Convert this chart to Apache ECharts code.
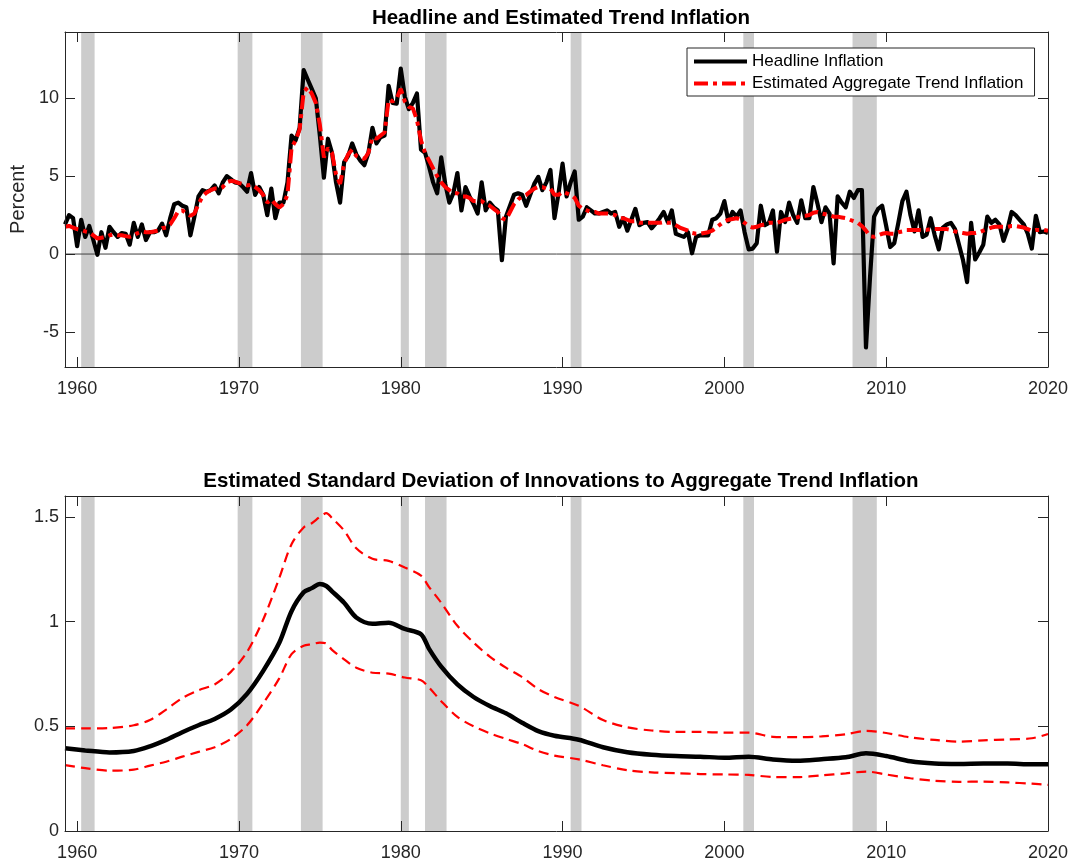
<!DOCTYPE html>
<html>
<head>
<meta charset="utf-8">
<title>Headline and Estimated Trend Inflation</title>
<script src="https://cdn.jsdelivr.net/npm/echarts@6/dist/echarts.min.js"></script>
<style>
  html, body { margin: 0; padding: 0; background: #fff; }
  #chart { width: 1075px; height: 865px; }
</style>
</head>
<body>
<div id="chart"></div>
<script>
// quarterly series, first observation 1959Q2
const firstQuarter = 1959.25;

const headline = [
  1.9, 2.5, 2.3,            // 1959
  0.5, 2.2, 1.1, 1.8,       // 1960
  0.9, -0.05, 1.4, 0.4,
  1.75, 1.4, 1.1, 1.35,
  1.3, 0.6, 2.0, 1.1,
  1.9, 0.9, 1.4, 1.4,
  1.5, 1.95, 1.2, 2.3,
  3.2, 3.3, 3.1, 3.0,
  1.2, 2.4, 3.7, 4.1,
  4.0, 4.1, 4.4, 3.9,
  4.6, 5.0, 4.8, 4.6,
  4.55, 4.3, 4.0, 5.2,      // 1970
  3.8, 4.3, 3.8, 2.5,
  4.2, 2.3, 3.3, 3.3,
  4.6, 7.6, 7.3, 8.1,
  11.8, 11.2, 10.6, 10.0,
  7.6, 4.9, 7.4, 6.5,
  4.6, 3.3, 5.9, 6.3,
  7.1, 6.4, 6.0, 5.7,
  6.5, 8.1, 7.1, 7.5,
  7.6, 10.8, 9.7, 9.65,
  11.9, 10.1, 9.3, 9.7,     // 1980
  10.3, 6.7, 6.5, 5.6,
  4.6, 3.9, 6.2, 4.5,
  3.3, 3.9, 5.2, 2.8,
  4.3, 3.7, 3.2, 2.6,
  4.6, 2.8, 3.3, 3.0,
  2.8, -0.4, 2.4, 3.1,
  3.8, 3.9, 3.8, 3.1,
  3.8, 4.5, 4.95, 4.1,
  4.6, 5.4, 2.3, 3.9,
  5.8, 3.7, 4.6, 5.3,       // 1990
  2.2, 2.4, 3.0, 2.8,
  2.6, 2.6, 2.7, 2.8,
  2.6, 2.7, 1.75, 2.3,
  1.5, 2.2, 2.9, 1.85,
  2.0, 2.05, 1.65, 1.95,
  2.3, 2.7, 2.05, 2.8,
  1.3, 1.2, 1.1, 1.4,
  0.05, 1.1, 1.2, 1.2,
  1.2, 2.2, 2.3, 2.6,
  3.4, 2.1, 2.7, 2.4,       // 2000
  2.8, 1.4, 0.3, 0.35,
  0.7, 3.1, 1.85, 2.0,
  2.8, 0.15, 2.7, 2.05,
  3.3, 2.5, 2.0, 3.45,
  2.3, 2.3, 4.3, 3.25,
  2.05, 3.0, 2.6, -0.6,
  3.7, 3.3, 3.0, 4.0,
  3.6, 4.1, 4.1, -6.0,
  -1.5, 2.4, 2.9, 3.1,
  1.8, 0.45, 0.7, 2.0,      // 2010
  3.4, 4.0, 2.5, 1.45,
  2.8, 1.1, 1.25, 2.3,
  1.2, 0.3, 1.7, 1.9,
  2.0, 1.6, 0.6, -0.4,
  -1.8, 2.0, -0.35, 0.1,
  0.6, 2.4, 2.0, 2.2,
  1.9, 0.85, 1.6, 2.7,
  2.5, 2.2, 1.9, 1.3,
  0.35, 2.45, 1.4, 1.45,
  1.35                      // 2020
];

const trend = [
  1.75, 1.8, 1.7,           // 1959
  1.6, 1.55, 1.45, 1.4,     // 1960
  1.2, 1.0, 1.05, 1.1,
  1.2, 1.25, 1.2, 1.2,
  1.15, 1.1, 1.2, 1.35,
  1.45, 1.4, 1.4, 1.45,
  1.5, 1.65, 1.7, 1.9,
  2.3, 2.75, 2.8, 2.6,
  2.45, 2.6, 3.2, 3.7,
  3.95, 4.1, 4.2, 4.2,
  4.3, 4.6, 4.7, 4.65,
  4.55, 4.5, 4.4, 4.45,     // 1970
  4.3, 4.1, 3.8, 3.3,
  3.5, 3.2, 3.0, 3.2,
  3.8, 6.8, 7.3, 8.0,
  10.4, 10.7, 10.3, 9.7,
  8.3, 6.2, 6.8, 6.5,
  5.1, 4.5, 5.8, 6.4,
  6.7, 6.3, 6.2, 6.1,
  6.5, 7.5, 7.4, 7.6,
  7.8, 9.9, 9.8, 10.0,
  10.6, 9.8, 9.45, 9.35,    // 1980
  8.6, 7.3, 6.5, 6.0,
  5.5, 5.0, 4.6, 4.3,
  4.1, 3.9, 3.9, 3.7,
  3.7, 3.6, 3.4, 3.4,
  3.4, 3.2, 3.1, 2.9,
  2.7, 2.3, 2.2, 2.7,
  3.2, 3.5, 3.7, 3.8,
  4.0, 4.2, 4.3, 4.3,
  4.2, 4.2, 3.8, 3.8,
  4.0, 3.9, 3.8, 3.6,       // 1990
  3.1, 2.9, 2.8, 2.7,
  2.7, 2.6, 2.6, 2.6,
  2.55, 2.5, 2.3, 2.3,
  2.2, 2.1, 2.1, 2.0,
  2.0, 2.0, 2.0, 2.0,
  2.0, 2.05, 2.0, 2.0,
  1.85, 1.7, 1.6, 1.5,
  1.35, 1.3, 1.3, 1.35,
  1.4, 1.5, 1.7, 1.9,
  2.1, 2.2, 2.25, 2.3,      // 2000
  2.2, 2.0, 1.8, 1.7,
  1.75, 1.85, 1.9, 2.0,
  2.0, 2.0, 2.1, 2.2,
  2.25, 2.3, 2.35, 2.45,
  2.45, 2.5, 2.65, 2.7,
  2.6, 2.55, 2.5, 2.4,
  2.4, 2.35, 2.3, 2.2,
  2.1, 2.0, 1.8, 1.5,
  1.15, 1.1, 1.2, 1.3,
  1.35, 1.3, 1.3, 1.4,      // 2010
  1.45, 1.55, 1.55, 1.55,
  1.55, 1.55, 1.55, 1.6,
  1.6, 1.6, 1.6, 1.6,
  1.55, 1.45, 1.4, 1.35,
  1.3, 1.35, 1.35, 1.4,
  1.5, 1.6, 1.7, 1.75,
  1.75, 1.75, 1.75, 1.8,
  1.8, 1.75, 1.7, 1.6,
  1.5, 1.55, 1.55, 1.55,
  1.5                       // 2020
];

// standard deviation of trend innovations (median and band)
const sdYears = [
  1959.25, 1960.5, 1962, 1963.5, 1964.5, 1965.5, 1966.5, 1967.5, 1968.5, 1969.5,
  1970.5, 1971.5, 1972.5, 1973.25, 1974, 1974.5, 1975, 1975.4, 1975.75, 1976.5, 1977.25,
  1978.25, 1979.25, 1980.25, 1981.25, 1981.75, 1982.5, 1983.5, 1984.5, 1985.5, 1986.5,
  1987.5, 1988.5, 1989.5, 1991, 1992.5, 1994, 1995.5, 1997, 1998.5, 2000,
  2001.5, 2003, 2004.5, 2006, 2007.5, 2008.75, 2010, 2011.5, 2013, 2014.5,
  2016, 2017.5, 2019, 2020
];
const sdMedian = [
  0.395, 0.385, 0.375, 0.382, 0.404, 0.435, 0.472, 0.505, 0.535, 0.58,
  0.655, 0.765, 0.90, 1.05, 1.14, 1.16, 1.18, 1.17, 1.145, 1.09, 1.02,
  0.99, 0.995, 0.965, 0.94, 0.87, 0.785, 0.70, 0.64, 0.597, 0.562,
  0.517, 0.477, 0.455, 0.436, 0.40, 0.376, 0.364, 0.358, 0.355, 0.35,
  0.355, 0.342, 0.336, 0.343, 0.352, 0.371, 0.358, 0.333, 0.322, 0.32,
  0.322, 0.322, 0.319, 0.319
];
const sdUpper = [
  0.49, 0.49, 0.492, 0.505, 0.53, 0.58, 0.635, 0.672, 0.70, 0.76,
  0.855, 1.01, 1.21, 1.37, 1.45, 1.47, 1.50, 1.518, 1.495, 1.435, 1.35,
  1.30, 1.29, 1.258, 1.22, 1.165, 1.09, 0.98, 0.90, 0.833, 0.78,
  0.735, 0.678, 0.64, 0.598, 0.53, 0.495, 0.48, 0.473, 0.473, 0.47,
  0.47, 0.45, 0.448, 0.452, 0.462, 0.478, 0.468, 0.447, 0.435, 0.427,
  0.433, 0.437, 0.443, 0.463
];
const sdLower = [
  0.315, 0.30, 0.288, 0.293, 0.312, 0.331, 0.355, 0.378, 0.40, 0.44,
  0.505, 0.61, 0.73, 0.845, 0.885, 0.892, 0.90, 0.895, 0.865, 0.82, 0.78,
  0.756, 0.752, 0.733, 0.72, 0.685, 0.62, 0.545, 0.50, 0.467, 0.44,
  0.415, 0.382, 0.36, 0.342, 0.314, 0.29, 0.28, 0.276, 0.272, 0.27,
  0.268, 0.258, 0.257, 0.266, 0.275, 0.284, 0.27, 0.252, 0.24, 0.235,
  0.236, 0.232, 0.226, 0.22
];

// NBER recessions
const recessionStart = [1960.25, 1969.92, 1973.83, 1980.0, 1981.5, 1990.5, 2001.17, 2007.92];
const recessionEnd   = [1961.08, 1970.83, 1975.17, 1980.5, 1982.83, 1991.17, 2001.83, 2009.42];

const yearTicks = [1960, 1970, 1980, 1990, 2000, 2010, 2020];
const topTicks = [-5, 0, 5, 10];

const FONT = '"Liberation Sans", Arial, Helvetica, sans-serif';
const AXIS_COLOR = '#262626';

const quarterly = vals => vals.map((v, i) => [firstQuarter + i / 4, v]);
const paired = vals => vals.map((v, i) => [sdYears[i], v]);
const recessionAreas = recessionStart.map((s, i) => [{ xAxis: s }, { xAxis: recessionEnd[i] }]);

const tickStyle = { inside: true, length: 10, lineStyle: { color: AXIS_COLOR, width: 1 } };
const lineStyleAxis = { show: true, onZero: false, lineStyle: { color: AXIS_COLOR, width: 1 } };

const makeX = (gridIndex, position) => ({
  type: 'value', gridIndex, position, min: 1959.25, max: 2020, z: 10,
  axisLine: lineStyleAxis,
  axisTick: Object.assign({ customValues: yearTicks }, tickStyle),
  axisLabel: position === 'bottom'
    ? { customValues: yearTicks, formatter: v => String(v), fontSize: 18, color: AXIS_COLOR, margin: 13, fontFamily: FONT }
    : { show: false },
  splitLine: { show: false }
});

const chart = echarts.init(document.getElementById('chart'));

const option = {
  animation: false,
  backgroundColor: '#fff',
  textStyle: { fontFamily: FONT },
  title: [
    {
      text: 'Headline and Estimated Trend Inflation',
      left: 556, top: 3, textAlign: 'center',
      textStyle: { fontSize: 20.5, fontWeight: 'bold', color: '#000', fontFamily: FONT }
    },
    {
      text: 'Estimated Standard Deviation of Innovations to Aggregate Trend Inflation',
      left: 556, top: 466, textAlign: 'center',
      textStyle: { fontSize: 20.5, fontWeight: 'bold', color: '#000', fontFamily: FONT }
    }
  ],
  legend: {
    data: ['Headline Inflation', 'Estimated Aggregate Trend Inflation'],
    orient: 'vertical',
    left: 687, top: 48,
    padding: [5, 11, 4, 5],
    itemGap: 5,
    itemWidth: 53, itemHeight: 14,
    itemStyle: { opacity: 0 },
    lineStyle: { width: 4 },
    backgroundColor: '#fff',
    borderColor: AXIS_COLOR, borderWidth: 1, borderRadius: 0,
    textStyle: { fontSize: 17, color: '#000', fontFamily: FONT },
    z: 20
  },
  grid: [
    { left: 65, top: 32, width: 983, height: 335, containLabel: false },
    { left: 65, top: 496, width: 983, height: 335, containLabel: false }
  ],
  xAxis: [
    makeX(0, 'bottom'), makeX(0, 'top'),
    makeX(1, 'bottom'), makeX(1, 'top')
  ],
  yAxis: [
    {
      type: 'value', gridIndex: 0, position: 'left', min: -7.25, max: 14.25, z: 10,
      name: 'Percent', nameLocation: 'middle', nameGap: 37,
      nameTextStyle: { fontSize: 20, color: AXIS_COLOR, fontFamily: FONT },
      axisLine: lineStyleAxis,
      axisTick: Object.assign({ customValues: topTicks }, tickStyle),
      axisLabel: { customValues: topTicks, fontSize: 18, color: AXIS_COLOR, margin: 6, fontFamily: FONT },
      splitLine: { show: false }
    },
    {
      type: 'value', gridIndex: 0, position: 'right', min: -7.25, max: 14.25, z: 10,
      axisLine: lineStyleAxis,
      axisTick: Object.assign({ customValues: topTicks }, tickStyle),
      axisLabel: { show: false },
      splitLine: { show: false }
    },
    {
      type: 'value', gridIndex: 1, position: 'left', min: 0, max: 1.6, interval: 0.5, z: 10,
      axisLine: lineStyleAxis,
      axisTick: tickStyle,
      axisLabel: { fontSize: 18, color: AXIS_COLOR, margin: 6, fontFamily: FONT, showMaxLabel: false },
      splitLine: { show: false }
    },
    {
      type: 'value', gridIndex: 1, position: 'right', min: 0, max: 1.6, interval: 0.5, z: 10,
      axisLine: lineStyleAxis,
      axisTick: tickStyle,
      axisLabel: { show: false },
      splitLine: { show: false }
    }
  ],
  series: [
    {
      name: 'recessions-top', type: 'line', xAxisIndex: 0, yAxisIndex: 0, z: 1,
      data: [], silent: true,
      markArea: { silent: true, itemStyle: { color: '#cccccc' }, label: { show: false }, data: recessionAreas }
    },
    {
      name: 'zero', type: 'line', xAxisIndex: 0, yAxisIndex: 0, z: 2,
      data: [[1959.25, 0], [2020, 0]], symbol: 'none', silent: true,
      lineStyle: { color: '#404040', width: 1 }
    },
    {
      name: 'Headline Inflation', type: 'line', xAxisIndex: 0, yAxisIndex: 0, z: 3,
      data: quarterly(headline), symbol: 'none',
      lineStyle: { color: '#000', width: 4.2, join: 'round' },
      itemStyle: { color: '#000' }
    },
    {
      name: 'Estimated Aggregate Trend Inflation', type: 'line', xAxisIndex: 0, yAxisIndex: 0, z: 4,
      data: quarterly(trend), symbol: 'none',
      lineStyle: { color: '#ff0000', width: 4, type: [14, 5, 4, 5] },
      itemStyle: { color: '#ff0000' }
    },
    {
      name: 'recessions-bottom', type: 'line', xAxisIndex: 2, yAxisIndex: 2, z: 1,
      data: [], silent: true,
      markArea: { silent: true, itemStyle: { color: '#cccccc' }, label: { show: false }, data: recessionAreas }
    },
    {
      name: 'SD upper', type: 'line', xAxisIndex: 2, yAxisIndex: 2, z: 3,
      data: paired(sdUpper), symbol: 'none', smooth: 0.3,
      lineStyle: { color: '#ff0000', width: 2.2, type: [10, 6] }
    },
    {
      name: 'SD lower', type: 'line', xAxisIndex: 2, yAxisIndex: 2, z: 3,
      data: paired(sdLower), symbol: 'none', smooth: 0.3,
      lineStyle: { color: '#ff0000', width: 2.2, type: [10, 6] }
    },
    {
      name: 'SD median', type: 'line', xAxisIndex: 2, yAxisIndex: 2, z: 4,
      data: paired(sdMedian), symbol: 'none', smooth: 0.3,
      lineStyle: { color: '#000', width: 4.5 }
    }
  ]
};

chart.setOption(option);
</script>
</body>
</html>
